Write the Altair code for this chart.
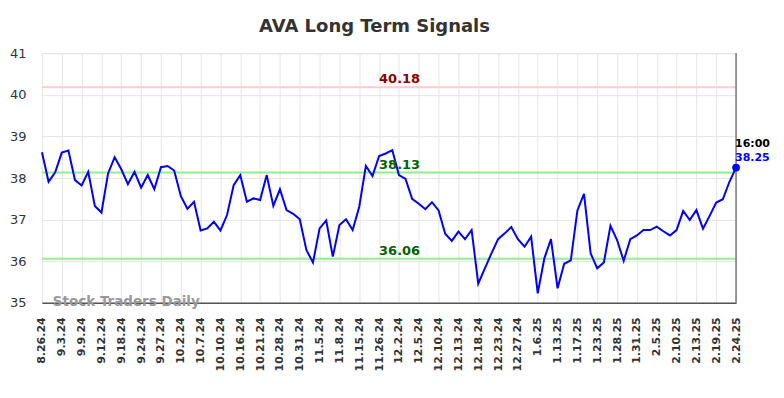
import altair as alt
import pandas as pd

tick_labels = ["8.26.24", "9.3.24", "9.9.24", "9.12.24", "9.18.24", "9.24.24", "9.27.24",
               "10.2.24", "10.7.24", "10.10.24", "10.16.24", "10.21.24", "10.28.24", "10.31.24",
               "11.5.24", "11.8.24", "11.15.24", "11.26.24", "12.2.24", "12.5.24", "12.10.24",
               "12.13.24", "12.18.24", "12.23.24", "12.27.24", "1.6.25", "1.13.25", "1.17.25",
               "1.23.25", "1.28.25", "1.31.25", "2.5.25", "2.10.25", "2.13.25", "2.19.25", "2.24.25"]

prices = [38.62, 37.91, 38.14, 38.61, 38.66, 37.95, 37.82, 38.15, 37.33, 37.17,
          38.11, 38.50, 38.21, 37.85, 38.15, 37.77, 38.07, 37.73, 38.26, 38.29,
          38.18, 37.57, 37.26, 37.43, 36.74, 36.79, 36.95, 36.74, 37.11, 37.83,
          38.07, 37.43, 37.51, 37.47, 38.07, 37.33, 37.73, 37.23, 37.14, 37.01,
          36.27, 35.97, 36.79, 36.98, 36.11, 36.87, 37.01, 36.75, 37.31, 38.29,
          38.05, 38.53, 38.59, 38.67, 38.07, 37.98, 37.50, 37.38, 37.25, 37.42,
          37.22, 36.66, 36.49, 36.71, 36.53, 36.75, 35.46, 35.83, 36.19, 36.53,
          36.67, 36.82, 36.53, 36.35, 36.59, 35.23, 36.07, 36.53, 35.35, 35.94,
          36.02, 37.22, 37.62, 36.19, 35.83, 35.97, 36.85, 36.51, 36.01, 36.53,
          36.62, 36.75, 36.75, 36.83, 36.72, 36.62, 36.75, 37.21, 36.99, 37.23,
          36.78, 37.09, 37.41, 37.49, 37.91, 38.25]

resistance_level = [40.18]
support_levels = [38.13, 36.06]
y_ticks = [35, 36, 37, 38, 39, 40, 41]
title_text = "AVA Long Term Signals"
watermark = "Stock Traders Daily"
last_time = "16:00"

FONT = "DejaVu Sans"
n = len(prices)
last_i = n - 1
df = pd.DataFrame({"i": list(range(n)), "price": prices})
x_values = list(range(0, n, 3))
label_expr = "[" + ",".join(f"'{t}'" for t in tick_labels) + "][round(datum.value/3)]"

x_scale = alt.Scale(domain=[0, last_i], nice=False, zero=False)
y_scale = alt.Scale(domain=[y_ticks[0], y_ticks[-1]], nice=False, zero=False)

x_enc = alt.X("i:Q", scale=x_scale, title=None,
              axis=alt.Axis(values=x_values, tickCount=len(x_values), labelExpr=label_expr,
                            labelAngle=270, labelFont=FONT, labelFontSize=11,
                            labelFontWeight="bold", labelColor="#333333",
                            labelPadding=14, ticks=False, domain=True,
                            domainColor="#555555", domainWidth=1.5,
                            grid=True, gridColor="#e6e6e6", labelOverlap=False,
                            labelSeparation=0, labelBound=False))
y_enc = alt.Y("price:Q", scale=y_scale, title=None,
              axis=alt.Axis(values=y_ticks, labelFont=FONT, labelFontSize=13,
                            labelColor="#333333", labelPadding=16, ticks=False,
                            domain=False, grid=True, gridColor="#e6e6e6"))

line = alt.Chart(df).mark_line(color="#0000ff", strokeWidth=2).encode(x=x_enc, y=y_enc)

res_df = pd.DataFrame({"y": resistance_level, "t": [f"{v:.2f}" for v in resistance_level], "i": [51]})
sup_df = pd.DataFrame({"y": support_levels, "t": [f"{v:.2f}" for v in support_levels], "i": [51, 51]})

res_rule = alt.Chart(res_df).mark_rule(color="#ffcccc", strokeWidth=2).encode(y=alt.Y("y:Q", scale=y_scale))
sup_rule = alt.Chart(sup_df).mark_rule(color="#90ee90", strokeWidth=2).encode(y=alt.Y("y:Q", scale=y_scale))

res_text = alt.Chart(res_df).mark_text(font=FONT, fontSize=13, fontWeight="bold", color="#8b0000",
                                       align="left", baseline="bottom", dy=-1).encode(
    x=alt.X("i:Q", scale=x_scale), y=alt.Y("y:Q", scale=y_scale), text="t:N")
sup_text = alt.Chart(sup_df).mark_text(font=FONT, fontSize=13, fontWeight="bold", color="#006400",
                                       align="left", baseline="bottom", dy=-1).encode(
    x=alt.X("i:Q", scale=x_scale), y=alt.Y("y:Q", scale=y_scale), text="t:N")

last_df = pd.DataFrame({"i": [last_i], "price": [prices[-1]], "tm": [last_time],
                        "pv": [f"{prices[-1]:.2f}"]})
dot = alt.Chart(last_df).mark_circle(color="#0000ff", size=60, opacity=1).encode(
    x=alt.X("i:Q", scale=x_scale), y=alt.Y("price:Q", scale=y_scale))
time_text = alt.Chart(last_df).mark_text(font=FONT, fontSize=11, fontWeight="bold", color="#000000",
                                         align="left", baseline="middle", dy=-24, dx=-1).encode(
    x=alt.X("i:Q", scale=x_scale), y=alt.Y("price:Q", scale=y_scale), text="tm:N")
val_text = alt.Chart(last_df).mark_text(font=FONT, fontSize=11, fontWeight="bold", color="#0000ff",
                                        align="left", baseline="middle", dy=-10, dx=-1).encode(
    x=alt.X("i:Q", scale=x_scale), y=alt.Y("price:Q", scale=y_scale), text="pv:N")

wm_df = pd.DataFrame({"i": [1.65], "y": [y_ticks[0]], "t": [watermark]})
wm_text = alt.Chart(wm_df).mark_text(font=FONT, fontSize=13.5, fontWeight="bold", color="#999999",
                                     align="left", baseline="middle", dy=-1).encode(
    x=alt.X("i:Q", scale=x_scale), y=alt.Y("y:Q", scale=y_scale), text="t:N")

border_df = pd.DataFrame({"i": [last_i]})
right_border = alt.Chart(border_df).mark_rule(color="#777777", strokeWidth=1.5).encode(
    x=alt.X("i:Q", scale=x_scale), y=alt.value(0), y2=alt.value(250))

title_df = pd.DataFrame({"t": [title_text]})
title = alt.Chart(title_df).mark_text(font=FONT, fontSize=18, fontWeight="bold", color="#333333",
                                      align="center", baseline="middle").encode(
    x=alt.value(333), y=alt.value(-26), text="t:N")

chart = alt.layer(
    res_rule, sup_rule, wm_text, line, right_border, res_text, sup_text, dot, time_text, val_text, title
).properties(
    width=695, height=250,
    autosize=alt.AutoSizeParams(type="none"),
    padding={"left": 34, "top": 45, "right": 40, "bottom": 80},
).configure_view(stroke=None).configure_axisX(labelOverlap=False).configure(background="#ffffff")

chart.save("out.html", embed_options={"renderer": "svg", "actions": False})
